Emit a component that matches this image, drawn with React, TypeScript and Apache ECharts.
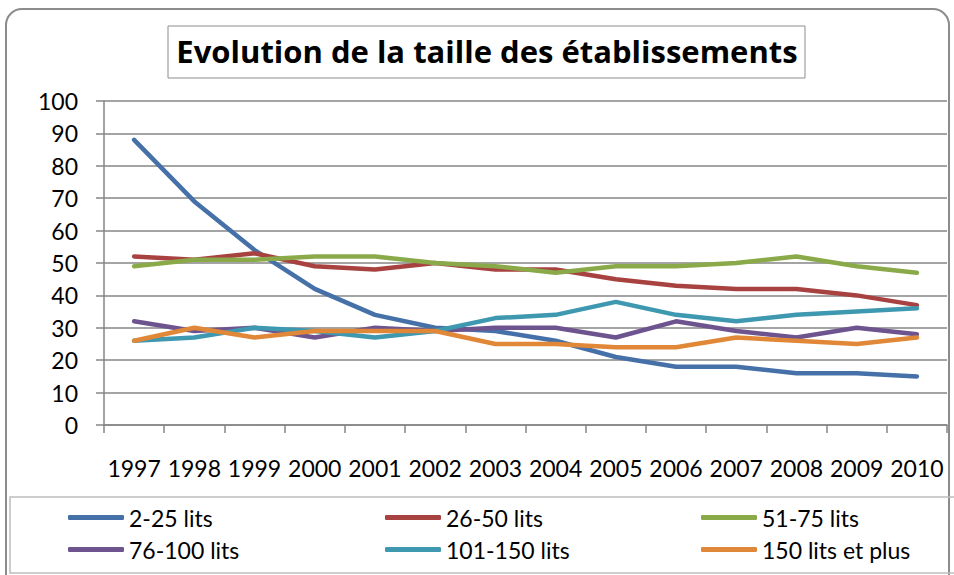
import React, { useEffect, useRef } from "react";
import * as echarts from "echarts";

const years = ["1997","1998","1999","2000","2001","2002","2003","2004","2005","2006","2007","2008","2009","2010"];
const s2_25 = [88, 69, 54, 42, 34, 30, 29, 26, 21, 18, 18, 16, 16, 15];
const s26_50 = [52, 51, 53, 49, 48, 50, 48, 48, 45, 43, 42, 42, 40, 37];
const s51_75 = [49, 51, 51, 52, 52, 50, 49, 47, 49, 49, 50, 52, 49, 47];
const s76_100 = [32, 29, 30, 27, 30, 29, 30, 30, 27, 32, 29, 27, 30, 28];
const s101_150 = [26, 27, 30, 29, 27, 29, 33, 34, 38, 34, 32, 34, 35, 36];
const s150p = [26, 30, 27, 29, 29, 29, 25, 25, 24, 24, 27, 26, 25, 27];

const seriesNames = ["2-25 lits", "26-50 lits", "51-75 lits", "76-100 lits", "101-150 lits", "150 lits et plus"];
const seriesData = [s2_25, s26_50, s51_75, s76_100, s101_150, s150p];
const colors = ["#4670A8", "#A84240", "#8AAA4A", "#6E548E", "#3E98B0", "#E08838"];
const titleText = "Evolution de la taille des établissements";

const FONT = "Lato, 'Open Sans', sans-serif";
const TITLE_FONT = "'Open Sans', Lato, sans-serif";

export default function App() {
  const ref = useRef<HTMLDivElement>(null);
  useEffect(() => {
    const chart = echarts.init(ref.current!, null, { renderer: "svg" });
    const legendText = { fontFamily: FONT, fontSize: 23, color: "#000" };
    const legendCommon = {
      orient: "vertical" as const,
      top: 506,
      itemWidth: 56,
      itemHeight: 5,
      itemGap: 9,
      icon: "roundRect",
      textStyle: legendText,
      selectedMode: false,
      padding: 0,
    };
    chart.setOption({
      animation: false,
      backgroundColor: "#fff",
      color: colors,
      title: {
        text: titleText,
        left: 487,
        top: 35,
        textAlign: "center",
        padding: 0,
        textStyle: { fontFamily: TITLE_FONT, fontSize: 31, fontWeight: "bold", color: "#000" },
      },
      graphic: [
        {
          type: "rect",
          shape: { x: 6, y: 9, width: 943, height: 600, r: 16 },
          style: { fill: "none", stroke: "#8c8c8c", lineWidth: 2 },
          silent: true,
        },
        {
          type: "rect",
          shape: { x: 168, y: 26, width: 637, height: 52 },
          style: { fill: "none", stroke: "#8c8c8c", lineWidth: 1 },
          silent: true,
        },
        {
          type: "rect",
          shape: { x: 10, y: 497, width: 980, height: 76 },
          style: { fill: "none", stroke: "#bdbdbd", lineWidth: 1.5 },
          silent: true,
        },
      ],
      legend: [
        { ...legendCommon, left: 68, data: [seriesNames[0], seriesNames[3]] },
        { ...legendCommon, left: 385, data: [seriesNames[1], seriesNames[4]] },
        { ...legendCommon, left: 701, data: [seriesNames[2], seriesNames[5]] },
      ],
      grid: { left: 104, right: 7, top: 101, bottom: 150, containLabel: false },
      xAxis: {
        type: "category",
        data: years,
        boundaryGap: true,
        axisLine: { lineStyle: { color: "#868686", width: 1.5 } },
        axisTick: { show: true, length: 8, lineStyle: { color: "#868686", width: 1.5 } },
        axisLabel: { fontFamily: FONT, fontSize: 23, color: "#000", margin: 31, interval: 0 },
      },
      yAxis: {
        type: "value",
        min: 0,
        max: 100,
        interval: 10,
        axisLine: { show: true, lineStyle: { color: "#868686", width: 1.5 } },
        axisTick: { show: true, length: 8, lineStyle: { color: "#868686", width: 1.5 } },
        splitLine: { lineStyle: { color: "#868686", width: 1.5 } },
        axisLabel: { fontFamily: FONT, fontSize: 23, color: "#000", margin: 26 },
      },
      series: seriesNames.map((name, i) => ({
        name,
        type: "line",
        data: seriesData[i],
        showSymbol: false,
        symbol: "none",
        lineStyle: { width: 4.5, color: colors[i], cap: "round", join: "round" },
        itemStyle: { color: colors[i] },
      })),
    });
    return () => chart.dispose();
  }, []);
  return <div ref={ref} style={{ width: 954, height: 575, position: "absolute", left: 0, top: 0 }} />;
}
